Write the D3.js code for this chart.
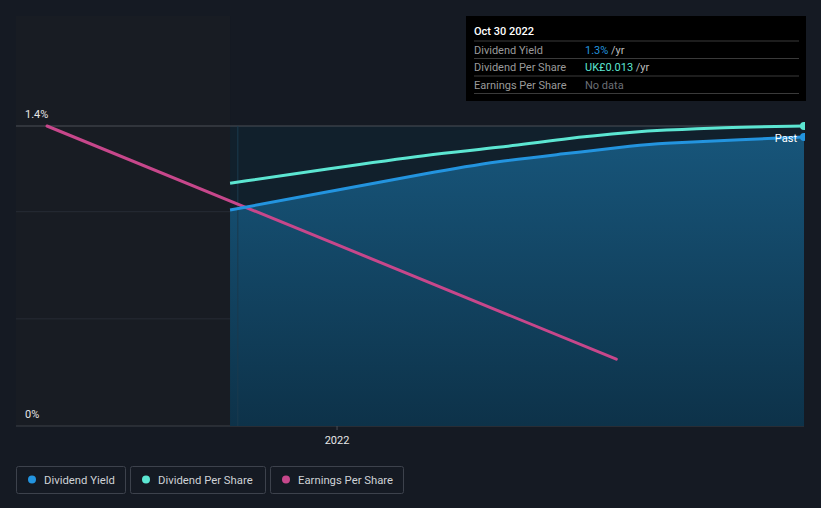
<!DOCTYPE html>
<html><head><meta charset="utf-8">
<script src="https://cdn.jsdelivr.net/npm/d3@7"></script>
<style>
html,body{margin:0;padding:0;background:#151a23;}
svg{display:block;font-family:Roboto,"Noto Sans",sans-serif;}
</style></head><body>
<svg id="c" width="821" height="508"></svg>
<script>
// ---- data ----
const yieldDates = ["2021-10-25","2021-12-28","2022-03-02","2022-04-17","2022-05-26","2022-07-16","2022-07-29","2022-09-06","2022-10-30"];
const yieldValues = [1.008, 1.094, 1.181, 1.237, 1.268, 1.311, 1.319, 1.331, 1.349];
const dpsDates = ["2021-10-25","2021-12-28","2022-03-02","2022-04-17","2022-05-26","2022-07-16","2022-07-29","2022-09-06","2022-10-30"];
const dpsValues = [0.01052, 0.01115, 0.01177, 0.01206, 0.01244, 0.01276, 0.01281, 0.01294, 0.01300];
const epsDates = ["2021-06-29","2021-12-31","2022-07-01"];
const epsValues = [0.0350, 0.0213, 0.0078];
const yTickValues = [0, 0.5, 1.0, 1.4];
const yTickLabels = {0:"0%", 1.4:"1.4%"};
const xTickDates = ["2022-01-01"];
const pastStart = "2021-10-30";
const tooltipDate = "Oct 30 2022";
const tooltipRows = [
  {label:"Dividend Yield", value:"1.3%", unit:" /yr", color:"#2394df"},
  {label:"Dividend Per Share", value:"UK£0.013", unit:" /yr", color:"#5ce6d2"},
  {label:"Earnings Per Share", value:"No data", unit:"", color:"#6b6f76"}
];
const legendItems = [
  {name:"Dividend Yield", color:"#2394df"},
  {name:"Dividend Per Share", color:"#5ce6d2"},
  {name:"Earnings Per Share", color:"#c7478b"}
];

const parse = d3.timeParse("%Y-%m-%d");
const svg = d3.select("#c");
const L = 16, R = 804, T = 126, B = 426;

const x = d3.scaleTime().domain([parse("2021-06-09"), parse("2022-10-30")]).range([L, R]);
const y = d3.scaleLinear().domain([0, 1.4]).range([B, T]);
const yDps = d3.scaleLinear().domain([0, 0.013]).range([B, T]);
const yEps = d3.scaleLinear().domain([0, 0.035]).range([B, T]);
const curve = d3.curveBasis;

const defs = svg.append("defs");
const g1 = defs.append("linearGradient").attr("id","ag").attr("x1",0).attr("y1",0).attr("x2",0).attr("y2",1);
g1.append("stop").attr("offset","0%").attr("stop-color","#17557a");
g1.append("stop").attr("offset","100%").attr("stop-color","#0d3249");
defs.append("clipPath").attr("id","clip").append("rect").attr("x",L).attr("y",0).attr("width",R-L+1).attr("height",B+2);

// regions
svg.append("rect").attr("x",L).attr("y",T-110).attr("width",x(parse(yieldDates[0]))-L).attr("height",B-T+110)
  .attr("fill","#181c23");
svg.append("rect").attr("x",x(parse(yieldDates[0]))).attr("y",T).attr("width",R-x(parse(yieldDates[0]))).attr("height",B-T)
  .attr("fill","#11202c");

// gridlines
yTickValues.forEach(v=>{
  svg.append("line").attr("x1",L).attr("x2",R).attr("y1",y(v)).attr("y2",y(v))
    .attr("stroke", v===1.4 ? "#4a4e57" : (v===0 ? "#3c4049":"#272c35")).attr("stroke-width",1);
});

const yd = yieldDates.map((d,i)=>({d:parse(d), v:yieldValues[i]}));
const dd = dpsDates.map((d,i)=>({d:parse(d), v:dpsValues[i]}));
const ed = epsDates.map((d,i)=>({d:parse(d), v:epsValues[i]}));

// area
svg.append("path").datum(yd)
  .attr("d", d3.area().x(p=>x(p.d)).y0(B).y1(p=>y(p.v)).curve(curve))
  .attr("fill","url(#ag)");
svg.append("line").attr("x1",x(parse(pastStart))).attr("x2",x(parse(pastStart))).attr("y1",T).attr("y2",B)
  .attr("stroke","#1b3a4e").attr("stroke-width",1);

// y labels
yTickValues.filter(v=>yTickLabels[v]).forEach(v=>{
  svg.append("text").attr("x",25).attr("y",y(v)-8).text(yTickLabels[v])
    .attr("fill","#e6e6e6").attr("font-size",11);
});

// x axis
const xAxis = d3.axisBottom(x).tickValues(xTickDates.map(parse)).tickFormat(d3.timeFormat("%Y")).tickSize(4).tickPadding(6);
const ax = svg.append("g").attr("transform",`translate(1,${B})`).call(xAxis);
ax.select(".domain").remove();
ax.selectAll("line").attr("stroke","#4a4e57");
ax.selectAll("text").attr("fill","#e6e6e6").attr("font-size",11).attr("font-family","Roboto,sans-serif");

const lines = svg.append("g").attr("clip-path","url(#clip)");
lines.append("path").datum(ed).attr("d", d3.line().x(p=>x(p.d)).y(p=>yEps(p.v)))
  .attr("fill","none").attr("stroke","#c7478b").attr("stroke-width",3).attr("stroke-linecap","round");
lines.append("path").datum(dd).attr("d", d3.line().x(p=>x(p.d)).y(p=>yDps(p.v)).curve(curve))
  .attr("fill","none").attr("stroke","#5ce6d2").attr("stroke-width",3);
lines.append("path").datum(yd).attr("d", d3.line().x(p=>x(p.d)).y(p=>y(p.v)).curve(curve))
  .attr("fill","none").attr("stroke","#2394df").attr("stroke-width",3);
const lastY = yd[yd.length-1], lastD = dd[dd.length-1];
lines.append("circle").attr("cx",x(lastD.d)).attr("cy",yDps(lastD.v)).attr("r",4).attr("fill","#5ce6d2");
lines.append("circle").attr("cx",x(lastY.d)).attr("cy",y(lastY.v)).attr("r",4).attr("fill","#2394df");
svg.append("text").attr("x",x(lastY.d)-7).attr("y",y(lastY.v)+5).attr("text-anchor","end")
  .attr("fill","#ffffff").attr("font-size",11).text("Past");

// tooltip
const tt = svg.append("g").attr("transform","translate(466,16)");
tt.append("rect").attr("width",340).attr("height",85).attr("fill","#000000");
tt.append("text").attr("x",8).attr("y",19).attr("fill","#ffffff").attr("font-size",11).attr("font-weight",500).text(tooltipDate);
tooltipRows.forEach((r,i)=>{
  const yy = 25 + i*17.5;
  tt.append("line").attr("x1",8).attr("x2",333).attr("y1",yy).attr("y2",yy).attr("stroke","#3a3a3a");
  tt.append("text").attr("x",8).attr("y",yy+12.5).attr("fill","#9a9a9a").attr("font-size",11).text(r.label);
  const t = tt.append("text").attr("x",119).attr("y",yy+12.5).attr("font-size",11);
  t.append("tspan").attr("fill",r.color).text(r.value);
  t.append("tspan").attr("fill","#bcbcbc").text(r.unit);
});
tt.append("line").attr("x1",8).attr("x2",333).attr("y1",25+3*17.5).attr("y2",25+3*17.5).attr("stroke","#3a3a3a");

// legend
const legendX = [16, 130, 270], legendW = [109, 135, 133];
legendItems.forEach((it,i)=>{
  const g = svg.append("g").attr("transform",`translate(${legendX[i]},466)`);
  g.append("rect").attr("x",0.5).attr("y",0.5).attr("width",legendW[i]).attr("height",27).attr("rx",2)
    .attr("fill","none").attr("stroke","#3d424c");
  g.append("circle").attr("cx",16).attr("cy",13.5).attr("r",4).attr("fill",it.color);
  g.append("text").attr("x",28).attr("y",17.5).attr("fill","#cfd2d6").attr("font-size",11.3).text(it.name);
});
</script>
</body></html>
